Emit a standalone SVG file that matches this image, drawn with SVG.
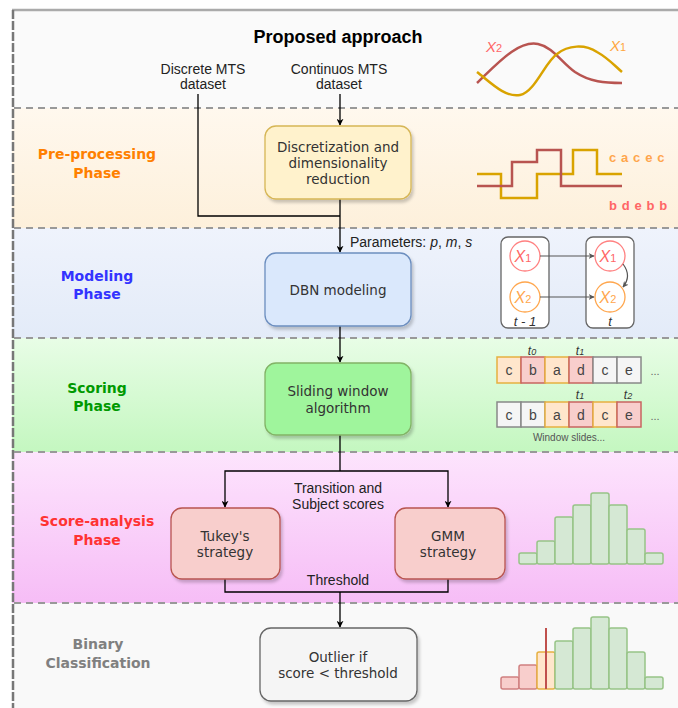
<svg xmlns="http://www.w3.org/2000/svg" width="678" height="708" viewBox="0 0 678 708">
<style>
.box{stroke-width:1.3}
.bt{font-family:"DejaVu Sans",Verdana,sans-serif;font-size:13.5px;fill:#333;text-anchor:middle}
.lt{font-family:"Liberation Sans",Arial,sans-serif;font-size:14px;fill:#222;text-anchor:middle}
.ph{font-family:"DejaVu Sans",Verdana,sans-serif;font-size:14px;font-weight:bold;text-anchor:middle}
.sep{stroke:#999;stroke-width:2;stroke-dasharray:7,5;fill:none}
.con{stroke:#000;stroke-width:1.3;fill:none}
.cell{stroke-width:1.5}
.ct{font-family:"Liberation Sans",Arial,sans-serif;font-size:14px;fill:#444;text-anchor:middle}
.it{font-family:"Liberation Sans",Arial,sans-serif;font-style:italic;text-anchor:middle}
.hg{fill:#d5e8d4;stroke:#97c487;stroke-width:1.5}
</style>
<defs>
<marker id="ah" viewBox="0 0 10 10" refX="9" refY="5" markerWidth="7" markerHeight="7" orient="auto" markerUnits="userSpaceOnUse" >
<path d="M0,0 L10,5 L0,10 L3,5 z" fill="#000"/>
</marker>
<marker id="ah2" viewBox="0 0 10 10" refX="9" refY="5" markerWidth="6" markerHeight="6" orient="auto" markerUnits="userSpaceOnUse">
<path d="M0,0 L10,5 L0,10 L3,5 z" fill="#555"/>
</marker>
<linearGradient id="gPre" x1="0" y1="0" x2="0" y2="1"><stop offset="0" stop-color="#fff8ee"/><stop offset="1" stop-color="#fdf0db"/></linearGradient>
<linearGradient id="gMod" x1="0" y1="0" x2="0" y2="1"><stop offset="0" stop-color="#eff3fc"/><stop offset="1" stop-color="#e3ebf8"/></linearGradient>
<linearGradient id="gSco" x1="0" y1="0" x2="0" y2="1"><stop offset="0" stop-color="#e8fde6"/><stop offset="1" stop-color="#c4f7c0"/></linearGradient>
<linearGradient id="gAna" x1="0" y1="0" x2="0" y2="1"><stop offset="0" stop-color="#fde4fd"/><stop offset="1" stop-color="#f6bdf6"/></linearGradient>
<filter id="sh" x="-10%" y="-10%" width="130%" height="130%"><feDropShadow dx="2" dy="3" stdDeviation="1.5" flood-color="#000" flood-opacity="0.2"/></filter>
</defs>

<g id="bands">
<rect x="12" y="10" width="666" height="98" fill="#fafafa"/>
<rect x="12" y="108" width="666" height="120" fill="url(#gPre)"/>
<rect x="12" y="228" width="666" height="110" fill="url(#gMod)"/>
<rect x="12" y="338" width="666" height="114" fill="url(#gSco)"/>
<rect x="12" y="452" width="666" height="151" fill="url(#gAna)"/>
<rect x="12" y="603" width="666" height="105" fill="#f9f9f9"/>
<line x1="12" y1="10" x2="678" y2="10" stroke="#aaa" stroke-width="2.5"/>
<line x1="13" y1="10" x2="13" y2="708" stroke="#777" stroke-width="2.5" stroke-dasharray="9,2"/>
<line class="sep" x1="14" y1="108" x2="678" y2="108"/>
<line class="sep" x1="14" y1="228" x2="678" y2="228"/>
<line class="sep" x1="14" y1="338" x2="678" y2="338" stroke-dasharray="5,2" stroke="#aaa"/>
<line class="sep" x1="14" y1="452" x2="678" y2="452"/>
<line class="sep" x1="14" y1="603" x2="678" y2="603"/>
</g>

<g id="labels">
<text x="338" y="43" font-family="Liberation Sans,Arial,sans-serif" font-size="18" font-weight="bold" text-anchor="middle" fill="#000">Proposed approach</text>
<text class="lt" x="203" y="74">Discrete MTS</text>
<text class="lt" x="203" y="89">dataset</text>
<text class="lt" x="339" y="74">Continuos MTS</text>
<text class="lt" x="339" y="89">dataset</text>
<text class="ph" fill="#ff8000" x="97" y="159">Pre-processing</text>
<text class="ph" fill="#ff8000" x="97" y="178">Phase</text>
<text class="ph" fill="#3333ff" x="97" y="281">Modeling</text>
<text class="ph" fill="#3333ff" x="97" y="299">Phase</text>
<text class="ph" fill="#009900" x="97" y="393">Scoring</text>
<text class="ph" fill="#009900" x="97" y="411">Phase</text>
<text class="ph" fill="#ff3333" x="97" y="526">Score-analysis</text>
<text class="ph" fill="#ff3333" x="97" y="545">Phase</text>
<text class="ph" fill="#808080" x="98" y="649">Binary</text>
<text class="ph" fill="#808080" x="98" y="668">Classification</text>
</g>

<g id="connectors">
<path class="con" d="M198,94 V216 H340"/>
<path class="con" d="M340,94 V125" marker-end="url(#ah)"/>
<path class="con" d="M340,199 V252" marker-end="url(#ah)"/>
<text x="350" y="247" font-family="Liberation Sans,Arial,sans-serif" font-size="14" fill="#222">Parameters: <tspan font-style="italic">p</tspan>, <tspan font-style="italic">m</tspan>, <tspan font-style="italic">s</tspan></text>
<path class="con" d="M340,326 V362" marker-end="url(#ah)"/>
<path class="con" d="M340,435 V471"/>
<path class="con" d="M340,471 H225 V507" marker-end="url(#ah)"/>
<path class="con" d="M340,471 H448 V507" marker-end="url(#ah)"/>
<text class="lt" x="338" y="493">Transition and</text>
<text class="lt" x="338" y="509">Subject scores</text>
<path class="con" d="M225,579 V592 H448 V579"/>
<text class="lt" x="338" y="585">Threshold</text>
<path class="con" d="M340,592 V627" marker-end="url(#ah)"/>
</g>

<g id="node-discretization">
<rect class="box" x="265" y="126" width="146" height="73" rx="11" fill="#fff2cc" stroke="#d6b656" filter="url(#sh)"/>
<text class="bt" x="338" y="152">Discretization and</text>
<text class="bt" x="338" y="168">dimensionality</text>
<text class="bt" x="338" y="184">reduction</text>
</g>
<g id="node-dbn">
<rect class="box" x="265" y="253" width="146" height="73" rx="11" fill="#dae8fc" stroke="#6c8ebf" filter="url(#sh)"/>
<text class="bt" x="338" y="295">DBN modeling</text>
</g>
<g id="node-sliding">
<rect class="box" x="265" y="363" width="146" height="72" rx="11" fill="#9ff59c" stroke="#82b366" filter="url(#sh)"/>
<text class="bt" x="338" y="396">Sliding window</text>
<text class="bt" x="338" y="413">algorithm</text>
</g>
<g id="node-tukey">
<rect class="box" x="171" y="508" width="109" height="71" rx="11" fill="#f8cecc" stroke="#b85450" filter="url(#sh)"/>
<text class="bt" x="225" y="541">Tukey's</text>
<text class="bt" x="225" y="557">strategy</text>
</g>
<g id="node-gmm">
<rect class="box" x="395" y="508" width="110" height="71" rx="11" fill="#f8cecc" stroke="#b85450" filter="url(#sh)"/>
<text class="bt" x="448" y="541">GMM</text>
<text class="bt" x="448" y="557">strategy</text>
</g>
<g id="node-outlier">
<rect class="box" x="260" y="628" width="157" height="73" rx="11" fill="#f5f5f5" stroke="#666" filter="url(#sh)"/>
<text class="bt" x="338" y="662">Outlier if</text>
<text class="bt" x="338" y="678">score &lt; threshold</text>
</g>

<g id="ill-curves">
<path d="M477,83 C497,64 518,40 538,44 C553,47 561,62 575,72 C590,82 605,83 622,83" fill="none" stroke="#b85450" stroke-width="2.5"/>
<path d="M477,72 C490,82 505,98 520,95 C535,92 545,62 557,54 C568,45 585,44 597,52 C608,58 615,66 622,72" fill="none" stroke="#d9a300" stroke-width="2.5"/>
<text class="it" x="494" y="52" font-size="15" fill="#ff6666">X<tspan font-size="11" font-style="normal">2</tspan></text>
<text class="it" x="618" y="51" font-size="15" fill="#ffa640">X<tspan font-size="11" font-style="normal">1</tspan></text>
</g>

<g id="ill-steps">
<path d="M477,174 H501 V198 H537 V174 H573 V150 H597 V174 H622" fill="none" stroke="#d9a300" stroke-width="2.5"/>
<path d="M477,186 H512 V162 H537 V150 H561 V186 H622" fill="none" stroke="#b85450" stroke-width="2.5"/>
<text x="609" y="162" font-family="Liberation Sans,Arial,sans-serif" font-size="13" font-weight="bold" fill="#ffa64d" letter-spacing="0.6">c a c e c</text>
<text x="609" y="210" font-family="Liberation Sans,Arial,sans-serif" font-size="13" font-weight="bold" fill="#ff6666" letter-spacing="0.6">b d e b b</text>
</g>

<g id="ill-dbn">
<rect x="501" y="237" width="48" height="91" rx="7" fill="#fff" stroke="#666" stroke-width="1.3"/>
<rect x="586" y="237" width="48" height="91" rx="7" fill="#fff" stroke="#666" stroke-width="1.3"/>
<circle cx="525" cy="256" r="15" fill="#fff" stroke="#ff8080" stroke-width="1.3"/>
<circle cx="525" cy="297" r="15" fill="#fff" stroke="#ffa64d" stroke-width="1.3"/>
<circle cx="610" cy="256" r="15" fill="#fff" stroke="#ff8080" stroke-width="1.3"/>
<circle cx="610" cy="297" r="15" fill="#fff" stroke="#ffa64d" stroke-width="1.3"/>
<text class="it" x="523" y="262" font-size="16" fill="#ff6666">X<tspan font-size="11" font-style="normal">1</tspan></text>
<text class="it" x="523" y="303" font-size="16" fill="#ffa64d">X<tspan font-size="11" font-style="normal">2</tspan></text>
<text class="it" x="608" y="262" font-size="16" fill="#ff6666">X<tspan font-size="11" font-style="normal">1</tspan></text>
<text class="it" x="608" y="303" font-size="16" fill="#ffa64d">X<tspan font-size="11" font-style="normal">2</tspan></text>
<line x1="540" y1="256" x2="594" y2="256" stroke="#555" stroke-width="1.2" marker-end="url(#ah2)"/>
<line x1="540" y1="297" x2="594" y2="297" stroke="#555" stroke-width="1.2" marker-end="url(#ah2)"/>
<path d="M623,264 Q632,276 623,287" fill="none" stroke="#555" stroke-width="1.2" marker-end="url(#ah2)"/>
<text class="it" x="525" y="326" font-size="13" fill="#333">t - 1</text>
<text class="it" x="610" y="326" font-size="13" fill="#333">t</text>
</g>

<g id="ill-window">
<rect class="cell" x="497" y="357" width="24" height="26" fill="#ffe6cc" stroke="#e6b040"/>
<rect class="cell" x="521" y="357" width="24" height="26" fill="#f8cecc" stroke="#c86460"/>
<rect class="cell" x="545" y="357" width="24" height="26" fill="#ffe6cc" stroke="#e6b040"/>
<rect class="cell" x="569" y="357" width="24" height="26" fill="#f8cecc" stroke="#c86460"/>
<rect class="cell" x="593" y="357" width="24" height="26" fill="#f5f5f5" stroke="#888"/>
<rect class="cell" x="617" y="357" width="24" height="26" fill="#f5f5f5" stroke="#888"/>
<text class="ct" x="509" y="375">c</text><text class="ct" x="533" y="375">b</text><text class="ct" x="557" y="375">a</text><text class="ct" x="581" y="375">d</text><text class="ct" x="605" y="375">c</text><text class="ct" x="629" y="375">e</text>
<text x="655" y="375" font-family="Liberation Sans,Arial,sans-serif" font-size="11" fill="#666" text-anchor="middle">...</text>
<text class="it" x="532" y="355" font-size="12" fill="#333">t<tspan font-size="9">0</tspan></text>
<text class="it" x="580" y="355" font-size="12" fill="#333">t<tspan font-size="9">1</tspan></text>
<rect class="cell" x="497" y="402" width="24" height="25" fill="#f5f5f5" stroke="#888"/>
<rect class="cell" x="521" y="402" width="24" height="25" fill="#f5f5f5" stroke="#888"/>
<rect class="cell" x="545" y="402" width="24" height="25" fill="#ffe6cc" stroke="#e6b040"/>
<rect class="cell" x="569" y="402" width="24" height="25" fill="#f8cecc" stroke="#c86460"/>
<rect class="cell" x="593" y="402" width="24" height="25" fill="#ffe6cc" stroke="#e6b040"/>
<rect class="cell" x="617" y="402" width="24" height="25" fill="#f8cecc" stroke="#c86460"/>
<text class="ct" x="509" y="420">c</text><text class="ct" x="533" y="420">b</text><text class="ct" x="557" y="420">a</text><text class="ct" x="581" y="420">d</text><text class="ct" x="605" y="420">c</text><text class="ct" x="629" y="420">e</text>
<text x="655" y="420" font-family="Liberation Sans,Arial,sans-serif" font-size="11" fill="#666" text-anchor="middle">...</text>
<text class="it" x="580" y="399" font-size="12" fill="#333">t<tspan font-size="9">1</tspan></text>
<text class="it" x="628" y="399" font-size="12" fill="#333">t<tspan font-size="9">2</tspan></text>
<text x="569" y="441" font-family="Liberation Sans,Arial,sans-serif" font-size="10" fill="#555" text-anchor="middle">Window slides...</text>
</g>

<g id="ill-hist1">
<rect class="hg" x="519" y="553" width="18" height="11" rx="2"/>
<rect class="hg" x="537" y="541" width="18" height="23" rx="2"/>
<rect class="hg" x="555" y="517" width="18" height="47" rx="2"/>
<rect class="hg" x="573" y="505" width="18" height="59" rx="2"/>
<rect class="hg" x="591" y="493" width="18" height="71" rx="2"/>
<rect class="hg" x="609" y="505" width="18" height="59" rx="2"/>
<rect class="hg" x="627" y="529" width="18" height="35" rx="2"/>
<rect class="hg" x="645" y="553" width="18" height="11" rx="2"/>
</g>

<g id="ill-hist2">
<rect x="501" y="677" width="18" height="12" rx="2" fill="#f8cecc" stroke="#d08080" stroke-width="1.5"/>
<rect x="519" y="665" width="18" height="24" rx="2" fill="#f8cecc" stroke="#d08080" stroke-width="1.5"/>
<rect x="537" y="652" width="18" height="37" rx="2" fill="#ffe6cc" stroke="#e6b040" stroke-width="1.5"/>
<rect class="hg" x="555" y="641" width="18" height="48" rx="2"/>
<rect class="hg" x="573" y="628" width="18" height="61" rx="2"/>
<rect class="hg" x="591" y="617" width="18" height="72" rx="2"/>
<rect class="hg" x="609" y="628" width="18" height="61" rx="2"/>
<rect class="hg" x="627" y="652" width="18" height="37" rx="2"/>
<rect class="hg" x="645" y="677" width="18" height="12" rx="2"/>
<line x1="546" y1="628" x2="546" y2="689" stroke="#c0504d" stroke-width="2"/>
</g>
</svg>
